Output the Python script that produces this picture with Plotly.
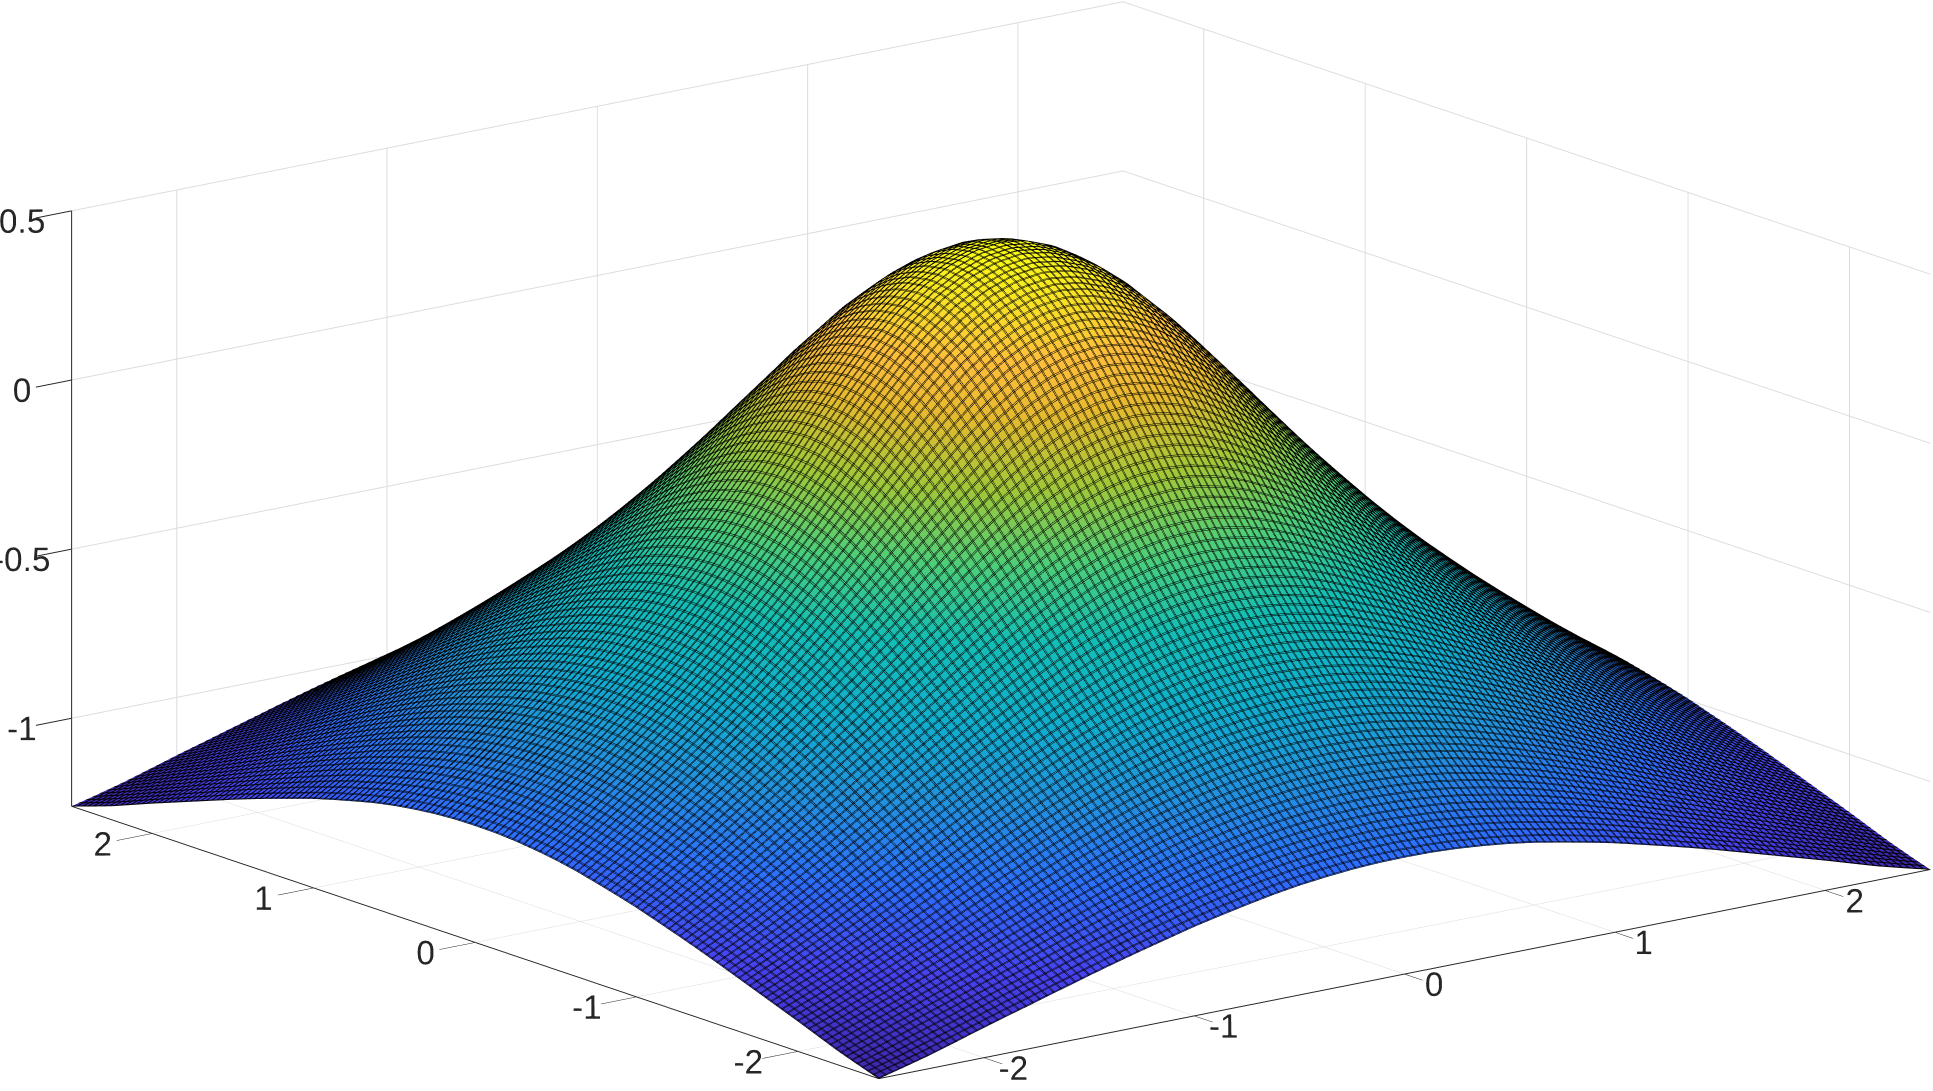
import numpy as np
import plotly.graph_objects as go

# grid positions along one side, centre outwards
grid_pos = [i * 0.125 for i in range(21)]

# surface height, one quadrant (the surface is mirrored in x and y)
z_quadrant = [
    [.500, .490, .460, .413, .350, .272, .183, .088, -.010, -.106, -.200, -.290, -.375, -.455, -.530, -.600, -.668, -.733, -.796, -.857, -.915],
    [.490, .478, .449, .403, .340, .263, .175, .081, -.016, -.111, -.205, -.294, -.378, -.458, -.533, -.602, -.670, -.735, -.798, -.859, -.916],
    [.460, .449, .421, .375, .313, .238, .152, .061, -.034, -.127, -.218, -.305, -.388, -.466, -.540, -.609, -.676, -.740, -.803, -.863, -.920],
    [.413, .403, .375, .331, .272, .198, .116, .028, -.062, -.152, -.240, -.324, -.405, -.481, -.552, -.620, -.686, -.750, -.811, -.871, -.927],
    [.350, .340, .313, .272, .214, .145, .067, -.016, -.101, -.186, -.269, -.350, -.427, -.500, -.569, -.636, -.700, -.762, -.823, -.881, -.936],
    [.272, .263, .238, .198, .145, .081, .009, -.068, -.147, -.227, -.305, -.382, -.455, -.525, -.591, -.655, -.718, -.778, -.838, -.895, -.948],
    [.183, .175, .152, .116, .067, .009, -.057, -.127, -.200, -.274, -.346, -.417, -.486, -.552, -.616, -.678, -.739, -.798, -.855, -.911, -.963],
    [.088, .081, .061, .028, -.016, -.068, -.127, -.190, -.257, -.324, -.392, -.458, -.522, -.584, -.644, -.704, -.762, -.819, -.875, -.928, -.979],
    [-.010, -.016, -.034, -.062, -.101, -.147, -.200, -.257, -.317, -.378, -.439, -.500, -.560, -.618, -.676, -.733, -.789, -.844, -.897, -.948, -.996],
    [-.106, -.111, -.127, -.152, -.186, -.227, -.274, -.324, -.378, -.433, -.489, -.545, -.600, -.655, -.710, -.764, -.818, -.871, -.922, -.970, -1.016],
    [-.200, -.205, -.218, -.240, -.269, -.305, -.346, -.392, -.439, -.489, -.540, -.591, -.642, -.694, -.746, -.798, -.849, -.899, -.947, -.993, -1.036],
    [-.290, -.294, -.305, -.324, -.350, -.382, -.417, -.458, -.500, -.545, -.591, -.638, -.686, -.735, -.784, -.833, -.881, -.928, -.974, -1.017, -1.057],
    [-.375, -.378, -.388, -.405, -.427, -.455, -.486, -.522, -.560, -.600, -.642, -.686, -.731, -.777, -.823, -.869, -.915, -.959, -1.001, -1.041, -1.079],
    [-.455, -.458, -.466, -.481, -.500, -.525, -.552, -.584, -.618, -.655, -.694, -.735, -.777, -.819, -.863, -.906, -.948, -.989, -1.028, -1.066, -1.102],
    [-.530, -.533, -.540, -.552, -.569, -.591, -.616, -.644, -.676, -.710, -.746, -.784, -.823, -.863, -.903, -.943, -.982, -1.020, -1.056, -1.091, -1.125],
    [-.600, -.602, -.609, -.620, -.636, -.655, -.678, -.704, -.733, -.764, -.798, -.833, -.869, -.906, -.943, -.980, -1.016, -1.050, -1.084, -1.116, -1.148],
    [-.668, -.670, -.676, -.686, -.700, -.718, -.739, -.762, -.789, -.818, -.849, -.881, -.915, -.948, -.982, -1.016, -1.048, -1.080, -1.111, -1.142, -1.171],
    [-.733, -.735, -.740, -.750, -.762, -.778, -.798, -.819, -.844, -.871, -.899, -.928, -.959, -.989, -1.020, -1.050, -1.080, -1.110, -1.138, -1.167, -1.195],
    [-.796, -.798, -.803, -.811, -.823, -.838, -.855, -.875, -.897, -.922, -.947, -.974, -1.001, -1.028, -1.056, -1.084, -1.111, -1.138, -1.165, -1.192, -1.219],
    [-.857, -.859, -.863, -.871, -.881, -.895, -.911, -.928, -.948, -.970, -.993, -1.017, -1.041, -1.066, -1.091, -1.116, -1.142, -1.167, -1.192, -1.217, -1.240],
    [-.915, -.916, -.920, -.927, -.936, -.948, -.963, -.979, -.996, -1.016, -1.036, -1.057, -1.079, -1.102, -1.125, -1.148, -1.171, -1.195, -1.219, -1.240, -1.260],
]

xy_ticks = [-2, -1, 0, 1, 2]
xy_labels = ['-2', '-1', '0', '1', '2']
z_ticks = [-1, -0.5, 0, 0.5]
z_labels = ['-1', '-0.5', '0', '0.5']

# matlab parula
parula = [
    [0.00, 'rgb(62,38,168)'], [0.10, 'rgb(71,66,238)'], [0.20, 'rgb(45,111,253)'],
    [0.30, 'rgb(34,146,222)'], [0.40, 'rgb(16,175,206)'], [0.50, 'rgb(19,190,182)'],
    [0.60, 'rgb(76,206,122)'], [0.70, 'rgb(160,200,57)'], [0.80, 'rgb(230,186,47)'],
    [0.87, 'rgb(254,190,60)'], [0.94, 'rgb(248,225,38)'], [1.00, 'rgb(249,251,21)'],
]

pos = np.array(grid_pos)
x = np.concatenate([-pos[:0:-1], pos])
q = np.array(z_quadrant)
top = np.hstack([q[:, :0:-1], q])
z = np.vstack([top[:0:-1], top])


def mesh_lines(offset):
    return dict(show=True, start=-2.5 + offset, end=2.5, size=5 / 150, color='black', width=2, highlight=False)


# webgl draws the contours 1px wide, so a second surface doubles each mesh line
def make_surface(offset):
    return go.Surface(
        x=x, y=x, z=z,
        colorscale=parula, cmin=-1.26, cmax=0.5, showscale=False,
        lighting=dict(ambient=1, diffuse=0, specular=0, roughness=1, fresnel=0),
        contours=dict(x=mesh_lines(offset), y=mesh_lines(offset), z=dict(show=False, highlight=False)),
        hoverinfo='skip',
    )


def axis(rng, ticks, labels, ticklen):
    return dict(
        range=rng, autorange=False, title=dict(text=''),
        tickmode='array', tickvals=ticks, ticktext=labels, tickangle=0,
        tickfont=dict(family='Liberation Sans', size=20, color='#262626'),
        ticks='outside', ticklen=ticklen, tickwidth=2, tickcolor='#262626',
        showline=True, linecolor='#262626', linewidth=2,
        showgrid=True, gridcolor='#dcdcdc', gridwidth=2,
        zeroline=False, showbackground=False, showspikes=False,
    )


# orthographic zoom in plotly comes from the aspect ratio, the eye only gives the direction
zoom = 2.43
center = dict(x=-0.0515, y=0.0365, z=-0.0094)
view = dict(x=-0.588, y=-0.766, z=0.259)
dist = 4

fig = go.Figure([make_surface(0), make_surface(0.005)])
fig.update_layout(
    width=1933, height=1091,
    margin=dict(l=0, r=0, t=0, b=0),
    paper_bgcolor='white',
    showlegend=False,
    scene=dict(
        domain=dict(x=[0, 1], y=[0, 1]),
        xaxis=axis([-2.5, 2.5], xy_ticks, xy_labels, 45),
        yaxis=axis([-2.5, 2.5], xy_ticks, xy_labels, 30),
        zaxis=axis([-1.26, 0.5], z_ticks, z_labels, 24),
        aspectmode='manual',
        aspectratio=dict(x=zoom, y=zoom, z=0.465 * zoom),
        camera=dict(
            projection=dict(type='orthographic'),
            up=dict(x=0, y=0, z=1),
            center=center,
            eye={k: center[k] + dist * view[k] for k in view},
        ),
    ),
)
# drop the default body margin, it clips the plot at the window edges
fig.write_html("out.html", config=dict(displayModeBar=False), post_script="document.body.style.margin='0';")
